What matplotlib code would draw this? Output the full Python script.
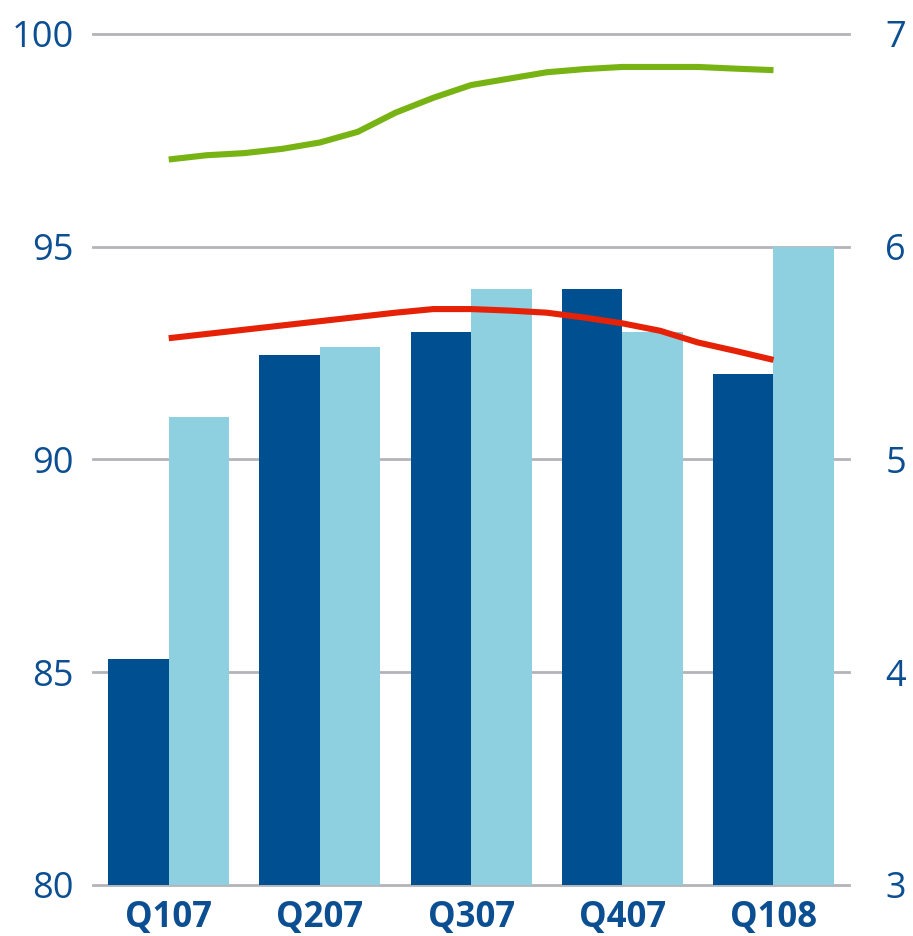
import numpy as np
import matplotlib
matplotlib.use("Agg")
import matplotlib.pyplot as plt

plt.rcParams['font.family'] = ['Open Sans', 'DejaVu Sans']

quarters = ["Q107", "Q207", "Q307", "Q407", "Q108"]
dark_bars = [85.3, 92.45, 93.0, 94.0, 92.0]
light_bars = [91.0, 92.65, 94.0, 93.0, 95.0]

# line series read every quarter of a period (17 points, Q107 .. Q108)
line_pos = np.linspace(0, 4, 17)
green_line = [6.41, 6.43, 6.44, 6.46, 6.49, 6.54, 6.63, 6.70, 6.76,
              6.79, 6.82, 6.835, 6.845, 6.845, 6.845, 6.837, 6.83]
red_line = [5.57, 5.59, 5.61, 5.63, 5.65, 5.67, 5.69, 5.707, 5.707,
            5.70, 5.69, 5.667, 5.64, 5.605, 5.55, 5.51, 5.468]

dark_c = "#004f90"
light_c = "#8ecfe0"
text_c = "#0b4f92"
grid_c = "#b3b3ba"

fig = plt.figure(figsize=(9.13, 9.36), dpi=100)
ax = fig.add_axes([0.102, 0.0545, 0.828, 0.9092])
x = np.arange(len(quarters))
ax.bar(x - 0.2, dark_bars, width=0.4, color=dark_c, zorder=2)
ax.bar(x + 0.2, light_bars, width=0.4, color=light_c, zorder=2)
ax.set_xlim(-0.5, 4.5)
ax.set_ylim(80, 100)
ax.set_yticks([80, 85, 90, 95, 100])
ax.set_xticks(x)
ax.set_xticklabels(quarters, fontsize=25, fontweight='bold', color=text_c)
ax.tick_params(axis='y', length=0, pad=14, labelsize=26, labelcolor=text_c)
ax.tick_params(axis='x', length=0, pad=11)
ax.grid(axis='y', color=grid_c, linewidth=2, zorder=0)
ax.set_axisbelow(True)
for gl in ax.yaxis.get_gridlines():
    gl.set_clip_on(False)
for s in ax.spines.values():
    s.set_visible(False)

ax2 = ax.twinx()
ax2.plot(line_pos, green_line, color="#78b314", linewidth=4.4, solid_capstyle='butt')
ax2.plot(line_pos, red_line, color="#e52207", linewidth=4.4, solid_capstyle='butt')
ax2.set_ylim(3, 7)
ax2.set_yticks([3, 4, 5, 6, 7])
ax2.tick_params(axis='y', length=0, pad=26, labelsize=26, labelcolor=text_c)
for s in ax2.spines.values():
    s.set_visible(False)

fig.savefig("out.png", dpi=100)
